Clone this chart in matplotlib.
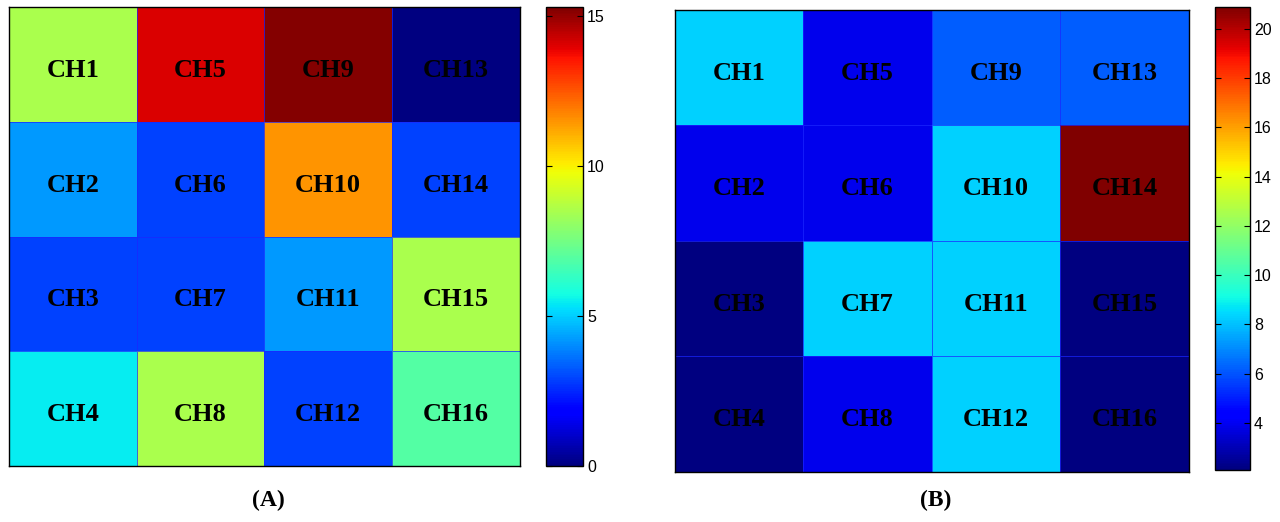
import numpy as np
import matplotlib.pyplot as plt
from matplotlib.colors import Normalize

# channel values, CH1..CH16 (channels fill the grid column by column)
channels = ["CH%d" % i for i in range(1, 17)]
vals_a = [8.5, 4.2, 2.9, 5.45, 14.1, 2.9, 2.9, 8.5,
          15.2, 11.5, 4.2, 2.9, 0.0, 2.9, 8.5, 6.9]
vals_b = [8.3, 3.9, 2.1, 2.1, 3.9, 3.9, 8.3, 3.9,
          6.2, 8.3, 8.3, 8.3, 6.2, 20.9, 2.1, 2.1]
range_a = (0.0, 15.3)
range_b = (2.1, 20.9)
ticks_a = [0, 5, 10, 15]
ticks_b = [4, 6, 8, 10, 12, 14, 16, 18, 20]
panel_names = ["(A)", "(B)"]

fig = plt.figure(figsize=(12.8, 5.22), dpi=100)

# [heatmap axes, colorbar axes] per panel, in figure fractions
layout = [
    ([0.007, 0.107, 0.399, 0.879], [0.4266, 0.107, 0.0289, 0.879]),
    ([0.527, 0.096, 0.402, 0.885], [0.949, 0.100, 0.0273, 0.887]),
]


def draw_panel(vals, vrange, ticks, name, rect, cbrect):
    ax = fig.add_axes(rect)
    grid = np.array(vals).reshape(4, 4).T   # rows top->bottom, cols left->right
    norm = Normalize(vmin=vrange[0], vmax=vrange[1])
    mesh = ax.pcolormesh(np.arange(5), np.arange(5), grid, cmap="jet", norm=norm,
                         edgecolors=(0.1, 0.15, 1.0, 0.7), linewidth=0.5)
    ax.set_xlim(0, 4)
    ax.set_ylim(4, 0)
    ax.set_xticks([])
    ax.set_yticks([])
    for sp in ax.spines.values():
        sp.set_color("black")
        sp.set_linewidth(1.0)

    for k, lab in enumerate(channels):
        col, row = divmod(k, 4)
        ax.text(col + 0.5, row + 0.55, lab, ha="center", va="center",
                fontsize=19, fontweight="bold", family="Liberation Serif",
                color="black")

    cax = fig.add_axes(cbrect)
    cb = fig.colorbar(mesh, cax=cax, ticks=ticks)
    cb.outline.set_linewidth(1.0)
    cax.tick_params(direction="in", left=True, right=True, length=4,
                    labelsize=11.5, pad=3)
    for t in cax.get_yticklabels():
        t.set_family("Liberation Sans")

    x_mid = (rect[0] + rect[0] + rect[2]) / 2
    fig.text(x_mid + 0.003, 0.042, name, ha="center", va="center",
             fontsize=17, fontweight="bold", family="Liberation Serif")


draw_panel(vals_a, range_a, ticks_a, panel_names[0], *layout[0])
draw_panel(vals_b, range_b, ticks_b, panel_names[1], *layout[1])

fig.savefig("out.png", dpi=100)
